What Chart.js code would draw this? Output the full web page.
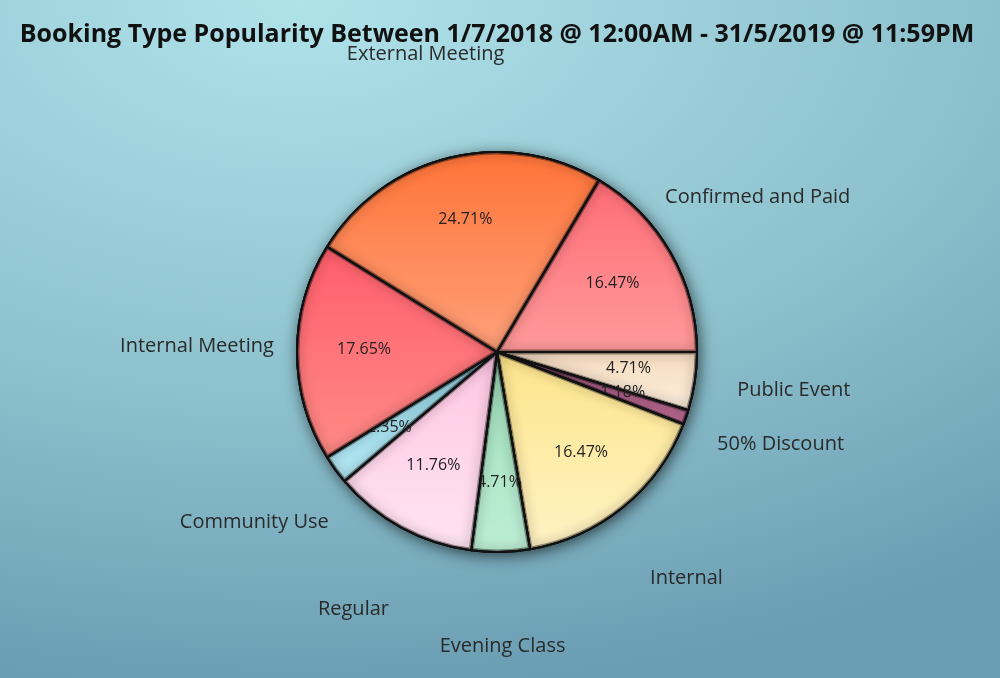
<!DOCTYPE html>
<html><head><meta charset="utf-8">
<script src="https://cdn.jsdelivr.net/npm/chart.js@4"></script>
<style>
html,body{margin:0;padding:0;}
body{width:1000px;height:678px;overflow:hidden;background:radial-gradient(1200px 700px at 300px 0px,#b0e2ea 0%,#8cc0cc 58%,#6a9cb2 100%);}
#wrap{position:relative;width:1000px;height:678px;}
</style></head><body>
<div id="wrap"><canvas id="c" width="1000" height="678"></canvas></div>
<script>
const TITLE = 'Booking Type Popularity Between 1/7/2018 @ 12:00AM - 31/5/2019 @ 11:59PM';
const categories = ['Public Event','50% Discount','Internal','Evening Class','Regular','Community Use','Internal Meeting','External Meeting','Confirmed and Paid'];
const bookings = [4,1,14,4,10,2,15,21,14];

const colorsTop = ['#f6dcc0','#a85680','#fde48a','#9fe0bb','#ffc6e4','#98dcee','#ff5e6c','#ff7438','#ff6c76'];
const colorsBottom = ['#fdeedd','#c27098','#fff3c4','#bdeed4','#ffe4f2','#b4e8f4','#ff8a86','#ffa07a','#ff9a9a'];

const R = 200;
const total = bookings.reduce((a, b) => a + b, 0);

function sliceAngles(i) {
  let s = 0;
  for (let k = 0; k < i; k++) s += bookings[k] / total * 2 * Math.PI;
  return [s, s + bookings[i] / total * 2 * Math.PI];
}

function bg(c) {
  const chart = c.chart, area = chart.chartArea, i = c.dataIndex;
  if (!area) return colorsBottom[i];
  const cy = (area.top + area.bottom) / 2;
  const [s, e] = sliceAngles(i);
  const ys = [0, Math.sin(s), Math.sin(e)];
  if (s < Math.PI / 2 && e > Math.PI / 2) ys.push(1);
  if (s < 3 * Math.PI / 2 && e > 3 * Math.PI / 2) ys.push(-1);
  const y0 = cy + R * Math.min(...ys), y1 = cy + R * Math.max(...ys);
  const g = chart.ctx.createLinearGradient(0, y0, 0, y1 + 0.01);
  g.addColorStop(0, colorsTop[i]);
  g.addColorStop(1, colorsBottom[i]);
  return g;
}

function arcPath(ctx, p) {
  ctx.beginPath();
  ctx.moveTo(p.x, p.y);
  ctx.arc(p.x, p.y, p.outerRadius, p.startAngle, p.endAngle);
  ctx.closePath();
}

const shadowPlugin = {
  id: 'pieShadow',
  beforeDatasetsDraw(chart) {
    const meta = chart.getDatasetMeta(0);
    const a = meta.data[0];
    if (!a) return;
    const ctx = chart.ctx;
    ctx.save();
    ctx.shadowColor = 'rgba(0,0,0,0.7)';
    ctx.shadowBlur = 16;
    ctx.shadowOffsetX = 2;
    ctx.shadowOffsetY = 3;
    ctx.fillStyle = '#777';
    ctx.beginPath();
    ctx.arc(a.x, a.y, a.outerRadius, 0, Math.PI * 2);
    ctx.fill();
    ctx.restore();
  },
  afterDatasetsDraw(chart) {
    const ctx = chart.ctx;
    const meta = chart.getDatasetMeta(0);
    meta.data.forEach((arc, i) => {
      const p = arc.getProps(['x', 'y', 'startAngle', 'endAngle', 'outerRadius'], true);
      arc.draw(ctx);
      // inner shadow
      ctx.save();
      arcPath(ctx, p);
      ctx.clip();
      ctx.shadowColor = 'rgba(0,0,0,0.7)';
      ctx.shadowBlur = 12;
      ctx.strokeStyle = 'rgba(0,0,0,0.4)';
      ctx.lineWidth = 5;
      ctx.stroke();
      ctx.restore();
      ctx.save();
      arcPath(ctx, p);
      ctx.lineWidth = 2;
      ctx.lineJoin = 'round';
      ctx.strokeStyle = '#111';
      ctx.stroke();
      ctx.restore();
      // percentage label
      const mid = (p.startAngle + p.endAngle) / 2;
      const pct = (bookings[i] / total * 100).toFixed(2) + '%';
      ctx.save();
      ctx.fillStyle = '#222';
      ctx.font = '16px "Open Sans", sans-serif';
      ctx.textAlign = 'center';
      ctx.textBaseline = 'middle';
      ctx.fillText(pct, p.x + Math.cos(mid) * p.outerRadius * 0.665, p.y + Math.sin(mid) * p.outerRadius * 0.665 - 3);
      ctx.restore();
    });
    // category labels outside
    ctx.save();
    ctx.fillStyle = '#2a2a2a';
    ctx.font = '20px "Open Sans", sans-serif';
    ctx.textAlign = 'center';
    ctx.textBaseline = 'middle';
    meta.data.forEach((arc, i) => {
      const p = arc.getProps(['x', 'y', 'startAngle', 'endAngle', 'outerRadius'], true);
      const mid = (p.startAngle + p.endAngle) / 2;
      const r = p.outerRadius * 1.5;
      ctx.fillText(categories[i], p.x + Math.cos(mid) * r, p.y + Math.sin(mid) * r - 6);
    });
    ctx.restore();
  }
};

new Chart(document.getElementById('c'), {
  type: 'pie',
  data: {
    labels: categories,
    datasets: [{
      data: bookings,
      backgroundColor: bg,
      borderColor: '#111',
      borderWidth: 2,
      hoverOffset: 0
    }]
  },
  options: {
    responsive: false,
    animation: false,
    events: [],
    rotation: 90,
    radius: R,
    layout: { padding: { left: 0, right: 6, top: 0, bottom: 126 } },
    plugins: {
      legend: { display: false },
      tooltip: { enabled: false },
      title: {
        display: true,
        text: TITLE,
        color: '#111',
        font: { family: '"Open Sans", sans-serif', weight: 'bold', size: 25 },
        padding: { top: 20, bottom: 102 }
      }
    }
  },
  plugins: [shadowPlugin]
});
</script>
</body></html>
